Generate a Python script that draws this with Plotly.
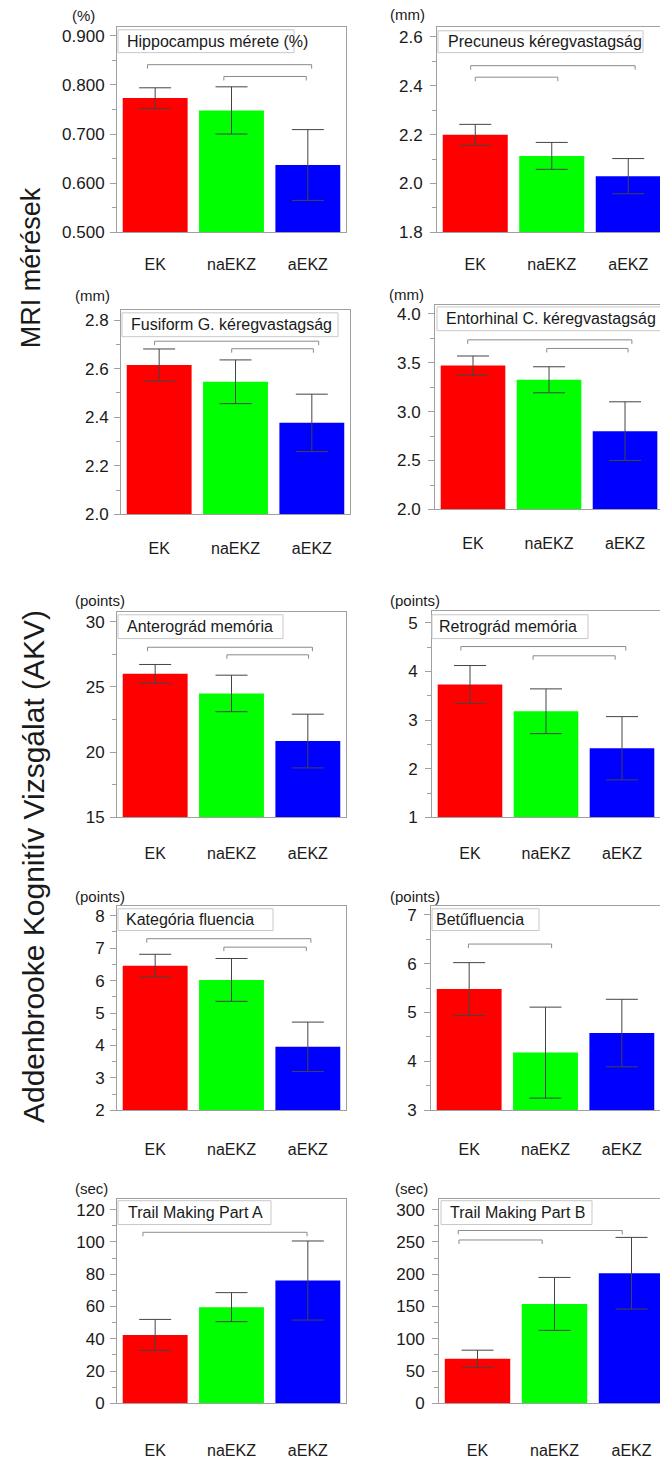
import plotly.graph_objects as go

W, H = 660, 1459

categories = ["EK", "naEKZ", "aEKZ"]
bar_colors = ["#ff0000", "#00ff00", "#0000ff"]

titles = [
    "Hippocampus mérete (%)",
    "Precuneus kéregvastagság",
    "Fusiform G. kéregvastagság",
    "Entorhinal C. kéregvastagság",
    "Anterográd memória",
    "Retrográd memória",
    "Kategória fluencia",
    "Betűfluencia",
    "Trail Making Part A",
    "Trail Making Part B",
]
units = ["(%)", "(mm)", "(mm)", "(mm)", "(points)", "(points)",
         "(points)", "(points)", "(sec)", "(sec)"]

hippocampus_mean = [0.773, 0.748, 0.637]
hippocampus_err = [0.021, 0.048, 0.072]
precuneus_mean = [2.199, 2.113, 2.030]
precuneus_err = [0.043, 0.055, 0.072]
fusiform_mean = [2.615, 2.546, 2.377]
fusiform_err = [0.066, 0.090, 0.118]
entorhinal_mean = [3.47, 3.325, 2.80]
entorhinal_err = [0.098, 0.133, 0.30]
anterograd_mean = [26.0, 24.5, 20.85]
anterograd_err = [0.72, 1.40, 2.06]
retrograd_mean = [3.73, 3.18, 2.42]
retrograd_err = [0.39, 0.46, 0.65]
kategoria_mean = [6.46, 6.02, 3.96]
kategoria_err = [0.35, 0.66, 0.76]
betu_mean = [5.48, 4.18, 4.58]
betu_err = [0.54, 0.93, 0.69]
tmta_mean = [42.4, 59.6, 76.1]
tmta_err = [9.6, 9.0, 24.5]
tmtb_mean = [69.0, 154.0, 201.5]
tmtb_err = [13.3, 41.0, 55.5]

means = [hippocampus_mean, precuneus_mean, fusiform_mean, entorhinal_mean,
         anterograd_mean, retrograd_mean, kategoria_mean, betu_mean,
         tmta_mean, tmtb_mean]
errors = [hippocampus_err, precuneus_err, fusiform_err, entorhinal_err,
          anterograd_err, retrograd_err, kategoria_err, betu_err,
          tmta_err, tmtb_err]

# significance brackets: (x start, x end, height) in
# category-index / data units
brackets = [
    [(-0.10, 2.05, 0.841), (0.90, 1.98, 0.817)],
    [(-0.06, 2.09, 2.482), (0.00, 1.08, 2.435)],
    [(-0.06, 2.09, 2.713), (0.95, 2.02, 2.682)],
    [(-0.07, 2.09, 3.733), (0.97, 2.04, 3.645)],
    [(-0.10, 2.06, 28.04), (0.94, 2.01, 27.46)],
    [(-0.12, 2.05, 4.51), (0.83, 1.91, 4.32)],
    [(-0.11, 2.04, 7.29), (0.90, 1.98, 7.03)],
    [(-0.01, 1.08, 6.40)],
    [(-0.16, 1.99, 106.0)],
    [(-0.25, 1.88, 267.7), (-0.24, 0.84, 253.0)],
]

# y-axis tick settings per panel
y_min = [0.5, 1.8, 2.0, 2.0, 15, 1, 2, 3, 0, 0]
y_dtick = [0.1, 0.2, 0.2, 0.5, 5, 1, 1, 1, 20, 50]
y_minor = [0.05, 0.1, 0.1, 0.25, 2.5, 0.5, 0.5, 0.5, 10, 25]
y_fmt = [".3f", ".1f", ".1f", ".1f", "d", "d", "d", "d", "d", "d"]

# panel geometry in pixels: left, right, top, bottom, y at top edge, x max
geom = [
    (117, 346, 27, 234, 0.918, 2.5),
    (437, 660, 27, 234, 2.641, 2.415),
    (121, 350, 312, 518, 2.842, 2.5),
    (435, 660, 307, 513, 4.09, 2.46),
    (117, 346, 616, 823, 30.76, 2.5),
    (432, 660, 615, 823, 5.245, 2.5),
    (117, 346, 912, 1118, 8.306, 2.5),
    (431, 660, 912, 1118, 7.183, 2.5),
    (117, 346, 1207, 1413, 126.8, 2.5),
    (439, 660, 1207, 1413, 316.9, 2.37),
]
# title boxes: left, right, top, bottom, text left
title_boxes = [
    (118, 294, 30, 53, 125),
    (438, 643, 31, 53, 446),
    (122, 338, 315, 339, 129),
    (437, 668, 309, 333, 444),
    (118, 283, 619, 643, 125),
    (432, 588, 619, 643, 437),
    (118, 273, 915, 937, 124),
    (432, 539, 915, 937, 434),
    (118, 271, 1209, 1233, 126),
    (441, 592, 1209, 1233, 448),
]
unit_pos = [(70, 16), (388, 15), (73, 298), (387, 297), (73, 605),
            (388, 605), (73, 903), (388, 903), (73, 1197), (393, 1197)]
xlabel_standoff = [17, 17, 19, 19, 21, 21, 24, 24, 32, 32]

FONT = "Liberation Sans, Arial, Helvetica, sans-serif"
TXT = "#1a1a1a"
AX = "#a0a0a0"


def px(x):
    return x / W


def py(y):
    return 1 - y / H


fig = go.Figure()
shapes = []
annotations = []
layout = {}

for i in range(10):
    l, r, t, b, ytop, xmax = geom[i]
    n = i + 1
    xa = "x" if n == 1 else f"x{n}"
    ya = "y" if n == 1 else f"y{n}"
    fig.add_trace(go.Bar(
        x=[0, 1, 2], y=means[i], xaxis=xa, yaxis=ya,
        marker=dict(color=bar_colors, line=dict(width=0)),
        error_y=dict(type="data", array=errors[i], color="#444444",
                     thickness=1, width=16),
        showlegend=False, hoverinfo="skip",
    ))
    left_panel = (i % 2 == 0)
    layout[f"xaxis{'' if n == 1 else n}"] = dict(
        domain=[px(l), px(r)], anchor=ya, range=[-0.5, xmax],
        tickmode="array", tickvals=[0, 1, 2], ticktext=categories,
        ticks="", showline=True, linecolor=AX, linewidth=1, mirror=True,
        showgrid=False, zeroline=False, fixedrange=True,
        tickfont=dict(family=FONT, size=16, color=TXT),
        ticklabelstandoff=xlabel_standoff[i],
    )
    layout[f"yaxis{'' if n == 1 else n}"] = dict(
        domain=[py(b), py(t)], anchor=xa, range=[y_min[i], ytop],
        dtick=y_dtick[i], tick0=y_min[i], tickformat=y_fmt[i],
        ticks="outside", ticklen=6, tickcolor=AX, tickwidth=1,
        minor=dict(dtick=y_minor[i], tick0=y_min[i], ticks="outside",
                   ticklen=4, tickcolor=AX, tickwidth=1, showgrid=False),
        showline=True, linecolor=AX, linewidth=1, mirror=left_panel,
        showgrid=False, zeroline=False, fixedrange=True,
        tickfont=dict(family=FONT, size=17, color=TXT),
        ticklabelstandoff=2 if left_panel else 4,
    )
    # brackets
    ppu = (b - t) / (ytop - y_min[i])
    drop = 4 / ppu
    for (x0, x1, yb) in brackets[i]:
        shapes.append(dict(
            type="path", xref=xa, yref=ya,
            path=f"M {x0},{yb - drop} L {x0},{yb} L {x1},{yb} L {x1},{yb - drop}",
            line=dict(color="#8a8a8a", width=1), layer="above",
        ))
    # title box
    bl, br, bt, bb, tx = title_boxes[i]
    shapes.append(dict(
        type="rect", xref="paper", yref="paper",
        x0=px(bl), x1=px(br), y0=py(bb), y1=py(bt),
        line=dict(color="#c8c8c8", width=1), fillcolor="white", layer="above",
    ))
    annotations.append(dict(
        x=px(tx), y=py((bt + bb) / 2), xref="paper", yref="paper",
        text=titles[i], showarrow=False, xanchor="left", yanchor="middle",
        font=dict(family=FONT, size=16, color=TXT),
    ))
    ux, uy = unit_pos[i]
    annotations.append(dict(
        x=px(ux), y=py(uy), xref="paper", yref="paper",
        text=units[i], showarrow=False, xanchor="left", yanchor="middle",
        font=dict(family=FONT, size=15, color=TXT),
    ))

annotations.append(dict(
    x=px(31), y=py(270), xref="paper", yref="paper", text="MRI mérések",
    showarrow=False, textangle=-90, xanchor="center", yanchor="middle",
    font=dict(family=FONT, size=27, color=TXT),
))
annotations.append(dict(
    x=px(33), y=py(873), xref="paper", yref="paper",
    text="Addenbrooke Kognitív Vizsgálat (AKV)",
    showarrow=False, textangle=-90, xanchor="center", yanchor="middle",
    font=dict(family=FONT, size=30, color=TXT),
))

fig.update_layout(
    width=W, height=H, margin=dict(l=0, r=0, t=0, b=0),
    paper_bgcolor="white", plot_bgcolor="white",
    bargap=0.15, shapes=shapes, annotations=annotations,
    **layout,
)

fig.write_html("out.html", include_plotlyjs=True, config={"displayModeBar": False})
